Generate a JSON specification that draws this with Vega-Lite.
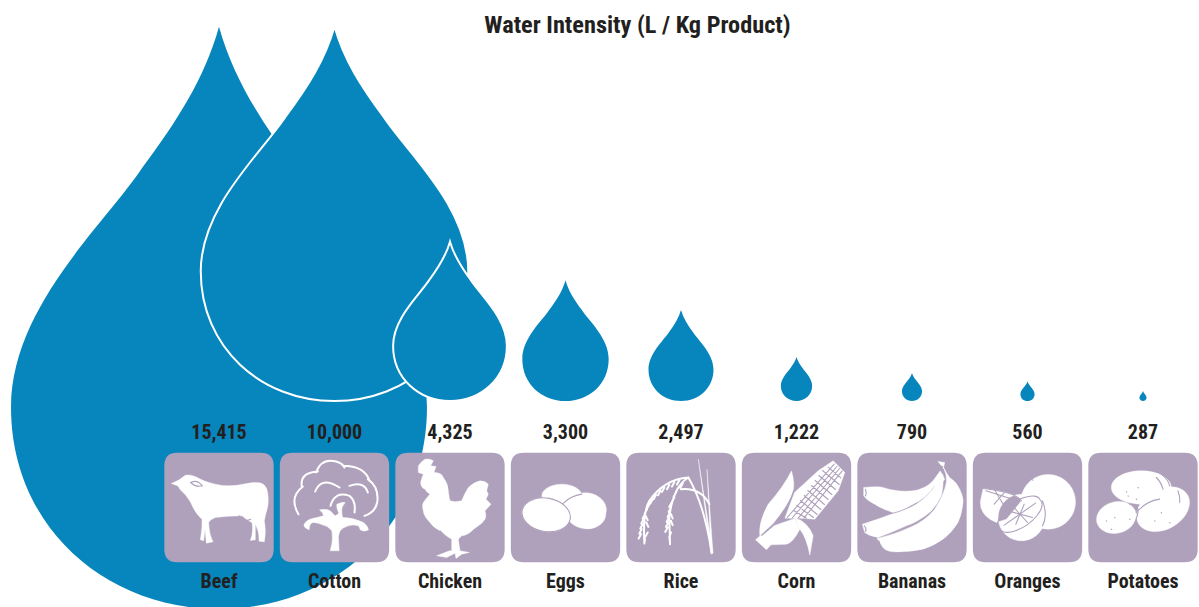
{
"$schema":"https://vega.github.io/schema/vega-lite/v6.json",
"width":1199,"height":607,"autosize":"none","padding":0,"background":"white",
"config":{"view":{"stroke":null}},
"title":{"text":"Water Intensity (L / Kg Product)","font":"Roboto Condensed, Liberation Sans","fontSize":24.3,"fontWeight":"bold","color":"#231F20","anchor":"middle","frame":"group","dx":38,"dy":38,"offset":0},
"data":{"values":[
{"name":"Beef","value":15415},{"name":"Cotton","value":10000},{"name":"Chicken","value":4325},{"name":"Eggs","value":3300},{"name":"Rice","value":2497},{"name":"Corn","value":1222},{"name":"Bananas","value":790},{"name":"Oranges","value":560},{"name":"Potatoes","value":287}
]},
"encoding":{
"x":{"field":"name","type":"nominal","axis":null,"scale":{"type":"point","padding":0,"domain":["Beef","Cotton","Chicken","Eggs","Rice","Corn","Bananas","Oranges","Potatoes"],"range":[219,1143]}}
},
"layer":[
{"transform":[{"filter":"datum.value>15000"}],
 "mark":{"type":"point","filled":true,"opacity":1,"color":"#0686BC","strokeWidth":0,"yOffset":176,"shape":"M0 -2.8C.07 -2.55 .2 -2.35 .37 -2.12C.55 -1.85 1 -1.45 1 -.97C1 -.4 .55 0 0 0C-.55 0 -1 -.4 -1 -.97C-1 -1.45 -.55 -1.85 -.37 -2.12C-.2 -2.35 -.07 -2.55 0 -2.8Z"},
 "encoding":{"y":{"datum":"value","type":"nominal","axis":null,"scale":{"type":"point","padding":0,"domain":["value","tile","name"],"range":[433,582]}},
 "size":{"field":"value","type":"quantitative","legend":null,"scale":{"type":"pow","exponent":2.04,"domain":[0,15415],"range":[0,173000]}}}},
{"transform":[{"filter":"datum.value<15000 && datum.value>4000"}],
 "mark":{"type":"point","filled":true,"opacity":1,"fill":"#0686BC","stroke":"white","strokeWidth":2,"yOffset":-32,"shape":"M0 -2.8C.07 -2.55 .2 -2.35 .37 -2.12C.55 -1.85 1 -1.45 1 -.97C1 -.4 .55 0 0 0C-.55 0 -1 -.4 -1 -.97C-1 -1.45 -.55 -1.85 -.37 -2.12C-.2 -2.35 -.07 -2.55 0 -2.8Z"},
 "encoding":{"y":{"datum":"value","type":"nominal"},
 "size":{"field":"value","type":"quantitative","legend":null}}},
{"transform":[{"filter":"datum.value<4000"}],
 "mark":{"type":"point","filled":true,"opacity":1,"color":"#0686BC","strokeWidth":0,"yOffset":-32,"shape":"M0 -2.8C.07 -2.55 .2 -2.35 .37 -2.12C.55 -1.85 1 -1.45 1 -.97C1 -.4 .55 0 0 0C-.55 0 -1 -.4 -1 -.97C-1 -1.45 -.55 -1.85 -.37 -2.12C-.2 -2.35 -.07 -2.55 0 -2.8Z"},
 "encoding":{"y":{"datum":"value","type":"nominal"},
 "size":{"field":"value","type":"quantitative","legend":null}}},
{"mark":{"type":"point","filled":true,"opacity":1,"color":"#AFA1BC","strokeWidth":0,"shape":"M-125 -164H125Q164 -164 164 -125V125Q164 164 125 164H-125Q-164 164 -164 125V-125Q-164 -164 -125 -164Z"},
 "encoding":{"y":{"datum":"tile","type":"nominal"},"size":{"value":0.4444}}},
{"mark":{"type":"point","filled":true,"opacity":1,"fill":"white","stroke":"white","strokeWidth":0.4,"strokeJoin":"round"},
 "encoding":{"y":{"datum":"tile","type":"nominal"},"size":{"value":0.4444},
 "shape":{"field":"name","type":"nominal","legend":null,"scale":{"domain":["Beef","Cotton","Chicken","Eggs","Rice","Corn","Bananas","Oranges","Potatoes"],"range":[
 "M-143 -72Q-120 -80 -101 -97Q-85 -100 -70 -92Q-40 -75 -11 -70Q30 -60 79 -71Q105 -77 122 -74Q142 -70 146 -45Q152 -10 140 20L136 40Q142 70 136 103L120 101Q122 75 109 50L109 97L94 99Q104 75 99 45Q85 40 69 25Q25 25 -11 30Q-25 35 -31 45Q-30 80 -18 103L-38 107Q-40 85 -42 65L-46 100L-56 97Q-50 60 -51 35Q-70 20 -86 -17Q-100 -40 -116 -53Q-120 -60 -124 -65Z",
 "M-13 130Q-3 100 -8 70Q-20 55 -33 53Q-50 45 -63 45Q-75 45 -76 67Q-95 60 -91 50Q-85 35 -53 30L-33 25Q-35 15 -45 7Q-25 3 -13 10Q-3 20 2 25Q15 20 12 15Q5 0 7 -10Q25 -18 32 -15Q20 0 22 10Q22 25 25 30Q55 30 87 45Q100 55 102 67Q90 75 77 67Q75 60 72 55Q55 50 42 55Q25 60 17 70Q10 85 12 95L14 130Z",
 "M-95 -125Q-85 -140 -75 -145Q-60 -148 -50 -140L-58 -125L-42 -123L-48 -105Q-25 -105 -20 -90Q-5 -70 -5 -50Q-3 -30 0 -20Q15 -15 35 -20Q45 -45 55 -60Q70 -75 90 -80Q105 -80 115 -70L110 -50L115 -40L108 -25L123 -10L105 10Q110 25 105 35Q95 50 85 55Q70 65 60 75Q45 85 35 85L25 95L30 130L58 135L35 140L18 153L15 137L-10 150L-40 145L-2 130L5 130L5 95Q-15 85 -30 70Q-50 60 -60 45Q-80 25 -80 10Q-85 -5 -80 -15Q-70 -30 -60 -40Q-70 -45 -75 -55Q-88 -60 -88 -75Q-85 -90 -80 -100L-95 -105Z",
 "M-71 -35A60 35 0 1 0 49 -35A60 35 0 1 0 -71 -35ZM-130 9A73 50 10 1 0 14 35A73 50 10 1 0 -130 9ZM3 2A60 48 8 1 0 121 18A60 48 8 1 0 3 2Z",
 "M90 137L52 -145L96 137ZM90 137L78 -115L96 137Z",
 "M-6 -45L65 -110L110 -140L145 -105L125 -50L55 35L10 32L-35 32ZM-15 -110Q-3 -70 -12 -45Q-25 -5 -70 48L-110 85Q-115 45 -85 -10Q-40 -60 -15 -110ZM-106 88L-66 54L-5 33L10 65Q-10 105 -30 110L-75 112ZM-123 97L-107 83L-75 110L-90 127ZM-5 30Q35 45 50 85L40 143Q30 90 10 65Z",
 "M-145 -60Q-100 -65 -87 -60Q-40 -45 3 -50Q40 -55 63 -80L85 -110L98 -85Q90 -70 68 -65Q40 -25 3 -10Q-30 10 -57 15Q-90 5 -112 -10Q-135 -20 -145 -35ZM-149 50Q-100 35 -67 22Q-20 10 13 -10Q50 -35 73 -70L93 -100Q95 -60 88 -35Q75 -5 53 15Q15 45 -17 55Q-60 75 -102 90Q-130 85 -142 75ZM-105 93Q-50 80 -7 60Q40 40 68 5Q95 -35 103 -75Q105 -100 96 -115L78 -138L98 -135L95 -120Q105 -100 113 -90Q135 -75 143 -55Q155 -30 153 -15Q150 20 138 45Q120 75 93 95Q65 115 33 125Q-10 135 -57 133Q-80 130 -87 120Z",
 "M-20 -17A82 82 0 1 0 144 -17A82 82 0 1 0 -20 -17ZM-133 -57Q-33 -45 -18 -20L-63 35L-93 45Q-145 25 -141 -20ZM-88 30A70 70 0 1 0 52 30A70 70 0 1 0 -88 30Z",
 "M-95 -60A90 50 0 1 1 85 -60A90 50 0 1 1 -95 -60ZM-14 47A85 60 -30 1 1 134 -37A85 60 -30 1 1 -14 47ZM-138 46A60 47 -15 1 1 -22 14A60 47 -15 1 1 -138 46Z"
 ]}}}},
{"mark":{"type":"point","filled":false,"opacity":1,"stroke":"white","strokeWidth":2,"strokeCap":"round"},
 "encoding":{"y":{"datum":"tile","type":"nominal"},"size":{"value":0.4444},
 "shape":{"field":"name","type":"nominal","legend":null,"scale":{"domain":["Beef","Cotton","Chicken","Eggs","Rice","Corn","Bananas","Oranges","Potatoes"],"range":[
 "M0 0",
 "M-108 20Q-138 -30 -95 -63M-98 -62Q-105 -105 -50 -108M-55 -105Q-40 -150 5 -138Q25 -132 30 -120M25 -125Q90 -125 105 -80M100 -85Q135 -60 128 -15Q122 15 90 25M-58 -48Q-40 -95 15 -60M-12 -5Q0 -50 45 -35Q65 -20 60 15M45 -65Q90 -80 100 -45",
 "M0 0","M0 0",
 "M92 137Q70 -10 22 -90M85 -10Q60 -60 0 -55M22 -90Q-50 -85 -95 -20Q-115 15 -110 105M22 -90Q-25 -60 -35 30L-33 110M-5 -82l-7 13M-20 -76l-7 13M-35 -68l-7 13M-50 -60l-7 13M-62 -50l-7 13M-75 -38l-7 13M-85 -25l-7 13M-95 -10l-7 13M-102 5l-7 13M-108 20l-7 13M-112 35l-7 13M-115 50l-7 13M-118 65l-7 13M-120 80l-7 13M-106 25l6 13M-104 45l6 13M-100 75l-7 13M-108 95l-2 13M5 -72l-7 13M-8 -60l-7 13M-15 -45l-7 13M-20 -30l-7 13M-28 -15l-7 13M-30 0l-7 13M-33 15l-7 13M-36 30l-7 13M-38 45l-7 13M-40 60l-7 13M-30 20l5 13M-30 40l5 13M-30 75l-5 13M-35 90l2 13",
 "M0 0","M0 0","M0 0","M0 0"
 ]}}}},
{"mark":{"type":"point","filled":false,"opacity":1,"stroke":"#AFA1BC","strokeWidth":1.1,"strokeCap":"round"},
 "encoding":{"y":{"datum":"tile","type":"nominal"},"size":{"value":0.4444},
 "shape":{"field":"name","type":"nominal","legend":null,"scale":{"domain":["Beef","Cotton","Chicken","Eggs","Rice","Corn","Bananas","Oranges","Potatoes"],"range":[
 "M-85 -75Q-65 -85 -50 -65Q-70 -60 -85 -75ZM60 25Q75 45 95 35",
 "M0 0",
 "M-30 70L-5 95",
 "M-130 9A73 50 10 1 0 14 35A73 50 10 1 0 -130 9ZM-6 -13Q15 -35 49 -40",
 "M0 0",
 "M-8 9L30 32M1 -6L51 30M12 -21L62 21M23 -36L73 6M34 -51L84 -9M45 -66L95 -24M56 -81L106 -39M67 -96L117 -54M78 -111L128 -69M95 -121L133 -89M-28 30L113 -130M-12 30L121 -123M5 32L129 -117M22 32L137 -110M-8 -50Q-20 -10 -62 42",
 "M-140 -55Q-135 -42 -140 -35M-143 55Q-135 65 -140 72M-100 100Q-95 108 -98 115M82 -125L92 -122",
 "M-84 63A75 35 -35 1 1 38 -23A75 35 -35 1 1 -84 63ZM-70 53L24 -13M-45 -5L0 45M-60 10L15 30M-10 -10L-35 50M-133 -57Q-33 -45 -18 -20M-125 -50L-30 -20M-100 -55L-70 -5M-65 -50L-100 -10M45 -20Q62 25 45 55M15 -83l1 1",
 "M-110 40l1 1M-85 30l1 1M-95 65l1 1M-50 -47l1 1M-20 -25l1 1M-15 -60l1 1M-45 -35l1 1M35 40l1 1M55 15l1 1M80 45l1 1M-40 35l1 1M40 -90Q55 -75 60 -55M55 -100Q75 -85 80 -65M105 -50Q112 -30 110 -15M-40 -10Q-15 -15 -15 15Q-20 40 -30 55M-20 15Q10 -20 50 -25"
 ]}}}},
{"mark":{"type":"text","font":"Roboto Condensed, Liberation Sans","fontWeight":"bold","fontSize":20,"color":"#231F20","baseline":"middle"},
 "encoding":{"y":{"datum":"value","type":"nominal"},"text":{"field":"value","type":"quantitative","format":","}}},
{"mark":{"type":"text","font":"Roboto Condensed, Liberation Sans","fontWeight":"bold","fontSize":20,"color":"#231F20","baseline":"middle"},
 "encoding":{"y":{"datum":"name","type":"nominal"},"text":{"field":"name","type":"nominal"}}}
],
"resolve":{"scale":{"shape":"independent"}}
}
